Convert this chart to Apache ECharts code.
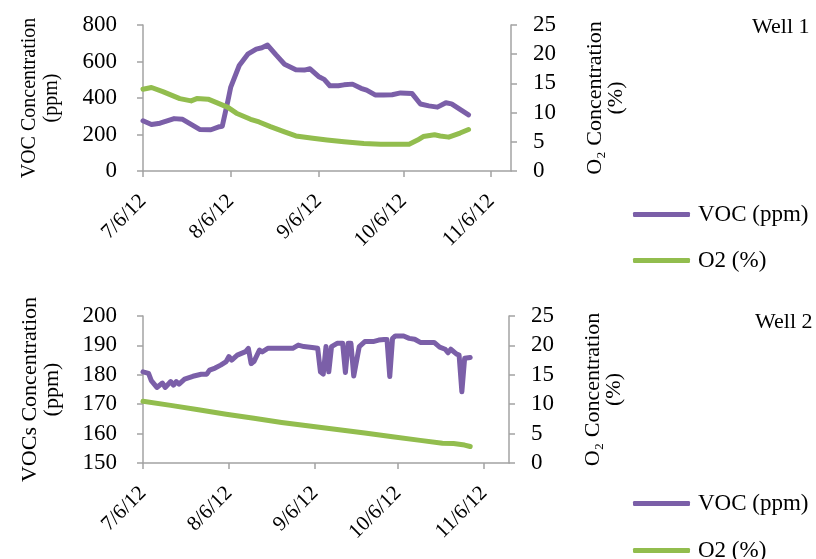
<!DOCTYPE html>
<html><head><meta charset="utf-8">
<script src="https://cdn.jsdelivr.net/npm/echarts@6/dist/echarts.min.js"></script>
<style>html,body{margin:0;padding:0;background:#fff}#c{width:816px;height:559px}</style>
</head><body><div id="c"></div><script>
// ---- data ----
const tickDates = ['2012-07-06','2012-08-06','2012-09-06','2012-10-06','2012-11-06'];

const voc1Dates = ['2012-07-06','2012-07-09','2012-07-12','2012-07-17','2012-07-20','2012-07-23','2012-07-26','2012-07-30','2012-08-02','2012-08-03','2012-08-05','2012-08-06','2012-08-09','2012-08-12','2012-08-15','2012-08-17','2012-08-19','2012-08-22','2012-08-25','2012-08-29','2012-09-01','2012-09-03','2012-09-06','2012-09-08','2012-09-10','2012-09-13','2012-09-15','2012-09-18','2012-09-21','2012-09-23','2012-09-26','2012-09-29','2012-10-02','2012-10-05','2012-10-09','2012-10-12','2012-10-15','2012-10-18','2012-10-21','2012-10-23','2012-10-26','2012-10-29'];
const voc1 = [275,255,262,287,283,255,228,226,243,245,385,460,578,640,668,675,690,636,585,555,553,560,518,502,467,467,472,476,453,443,417,417,418,428,425,367,357,350,374,368,338,308];

const o21Dates = ['2012-07-06','2012-07-09','2012-07-13','2012-07-19','2012-07-23','2012-07-25','2012-07-29','2012-08-01','2012-08-05','2012-08-08','2012-08-13','2012-08-16','2012-08-20','2012-08-25','2012-08-29','2012-09-04','2012-09-09','2012-09-15','2012-09-22','2012-09-28','2012-10-04','2012-10-08','2012-10-11','2012-10-13','2012-10-17','2012-10-19','2012-10-22','2012-10-26','2012-10-29'];
const o21 = [14.0,14.3,13.6,12.4,12.0,12.4,12.3,11.7,10.9,9.9,8.85,8.4,7.6,6.7,6.0,5.6,5.3,5.0,4.7,4.6,4.6,4.6,5.3,5.9,6.2,6.0,5.8,6.5,7.1];

const voc2Dates = ['2012-07-06','2012-07-08','2012-07-09','2012-07-11','2012-07-13','2012-07-14','2012-07-16','2012-07-17','2012-07-18','2012-07-19','2012-07-21','2012-07-24','2012-07-27','2012-07-29','2012-07-30','2012-08-01','2012-08-03','2012-08-05','2012-08-06','2012-08-07','2012-08-09','2012-08-12','2012-08-13','2012-08-14','2012-08-15','2012-08-17','2012-08-18','2012-08-20','2012-08-29','2012-08-31','2012-09-02','2012-09-05','2012-09-07','2012-09-08','2012-09-09','2012-09-10','2012-09-11','2012-09-12','2012-09-14','2012-09-16','2012-09-17','2012-09-18','2012-09-19','2012-09-20','2012-09-22','2012-09-24','2012-09-27','2012-09-29','2012-10-01','2012-10-02','2012-10-03','2012-10-04','2012-10-05','2012-10-08','2012-10-10','2012-10-12','2012-10-14','2012-10-19','2012-10-21','2012-10-23','2012-10-24','2012-10-25','2012-10-27','2012-10-28','2012-10-29','2012-10-30','2012-11-01'];
const voc2 = [181,180.5,178,175.7,177.2,175.7,177.7,176.5,177.7,176.8,178.5,179.5,180.2,180.2,181.6,182.3,183.3,184.5,186.2,185,186.7,187.9,189,183.8,184.5,188.4,187.8,189,189,190.1,189.6,189.3,189,181,180.2,189.6,181,189.6,190.7,190.7,180.8,190.7,190.7,179.6,189.6,191.3,191.3,191.8,192,192,179.4,192.4,193.2,193.2,192.4,192.1,191,191,189.4,188.7,187.5,188.7,187.1,186.7,174.2,185.6,185.9];

const o22Dates = ['2012-07-06','2012-07-16','2012-07-26','2012-08-05','2012-08-15','2012-08-25','2012-09-04','2012-09-14','2012-09-24','2012-10-04','2012-10-14','2012-10-22','2012-10-26','2012-10-30','2012-11-01'];
const o22 = [10.5,9.8,9.05,8.3,7.6,6.9,6.3,5.7,5.1,4.45,3.85,3.35,3.3,3.05,2.8];

const leftTicks1 = [0,200,400,600,800];
const leftTicks2 = [150,160,170,180,190,200];
const rightTicks = [0,5,10,15,20,25];

// ---- helpers ----
function ts(s){const p=s.split('-');return new Date(+p[0],+p[1]-1,+p[2]).getTime();}
function pairs(d,v){return d.map((x,i)=>[ts(x),v[i]]);}
const FONT = "'Liberation Serif','Times New Roman',serif";
const AX = '#a3a3a3';
const PURPLE = '#7b5fa8';
const GREEN = '#92bd4e';
const tickTs = tickDates.map(ts);
function fmtDate(v){const d=new Date(v);return (d.getMonth()+1)+'/'+d.getDate()+'/'+String(d.getFullYear()).slice(2);}

function xAxis(grid,maxDate){
  return {type:'value',gridIndex:grid,min:ts('2012-07-06'),max:ts(maxDate),
    axisLine:{show:true,onZero:false,lineStyle:{color:AX,width:1.5}},
    axisTick:{show:true,customValues:tickTs,length:6,lineStyle:{color:AX,width:1.5}},
    axisLabel:{customValues:tickTs,rotate:45,margin:27,formatter:fmtDate,fontFamily:FONT,fontSize:21,color:'#000'},
    splitLine:{show:false},minorTick:{show:false}};
}
function yAxis(grid,pos,min,max,interval,name,gap,fs,lh){
  return {type:'value',gridIndex:grid,position:pos,min:min,max:max,interval:interval,
    name:name,nameLocation:'middle',nameRotate:90,nameGap:gap,
    nameTextStyle:{fontFamily:FONT,fontSize:fs,lineHeight:lh,color:'#000'},
    axisLine:{show:true,lineStyle:{color:AX,width:1.5}},
    axisTick:{show:true,length:6,lineStyle:{color:AX,width:1.5}},
    axisLabel:{margin:pos==='left'?26:22,fontFamily:FONT,fontSize:23,color:'#000'},
    splitLine:{show:false}};
}
function line(name,x,y,data,color){
  return {type:'line',name:name,xAxisIndex:x,yAxisIndex:y,data:data,showSymbol:false,symbol:'none',
    lineStyle:{color:color,width:5,cap:'round',join:'round'},itemStyle:{color:color},emphasis:{disabled:true}};
}
function legend(name,top){
  return {data:[name],orient:'vertical',left:633,top:top,padding:0,itemWidth:57,itemHeight:5,
    icon:'roundRect',textStyle:{fontFamily:FONT,fontSize:23,color:'#000',padding:[0,0,0,3]}};
}

const chart = echarts.init(document.getElementById('c'),null,{renderer:'canvas'});
chart.setOption({
  animation:false,
  backgroundColor:'#fff',
  title:[
    {text:'Well 1',left:752,top:16,padding:0,textStyle:{fontFamily:FONT,fontSize:22,fontWeight:'normal',color:'#000'}},
    {text:'Well 2',left:755,top:311,padding:0,textStyle:{fontFamily:FONT,fontSize:22,fontWeight:'normal',color:'#000'}}
  ],
  legend:[legend('VOC (ppm)',203),legend('O2 (%)',249),legend('VOC (ppm)',492),legend('O2 (%)',539)],
  grid:[
    {left:143,top:25,width:368,height:146,outerBoundsMode:'none'},
    {left:143,top:316,width:366,height:147,outerBoundsMode:'none'}
  ],
  xAxis:[xAxis(0,'2012-11-13'),xAxis(1,'2012-11-15')],
  yAxis:[
    yAxis(0,'left',leftTicks1[0],leftTicks1[leftTicks1.length-1],200,'VOC Concentration\n(ppm)',80,20,22),
    yAxis(0,'right',rightTicks[0],rightTicks[rightTicks.length-1],5,'O\u2082 Concentration\n(%)',74,22,21),
    yAxis(1,'left',leftTicks2[0],leftTicks2[leftTicks2.length-1],10,'VOCs Concentration\n(ppm)',80,22,22),
    yAxis(1,'right',rightTicks[0],rightTicks[rightTicks.length-1],5,'O\u2082 Concentration\n(%)',74,22,21)
  ],
  series:[
    line('VOC (ppm)',0,0,pairs(voc1Dates,voc1),PURPLE),
    line('O2 (%)',0,1,pairs(o21Dates,o21),GREEN),
    line('VOC (ppm)',1,2,pairs(voc2Dates,voc2),PURPLE),
    line('O2 (%)',1,3,pairs(o22Dates,o22),GREEN)
  ]
});
</script></body></html>
